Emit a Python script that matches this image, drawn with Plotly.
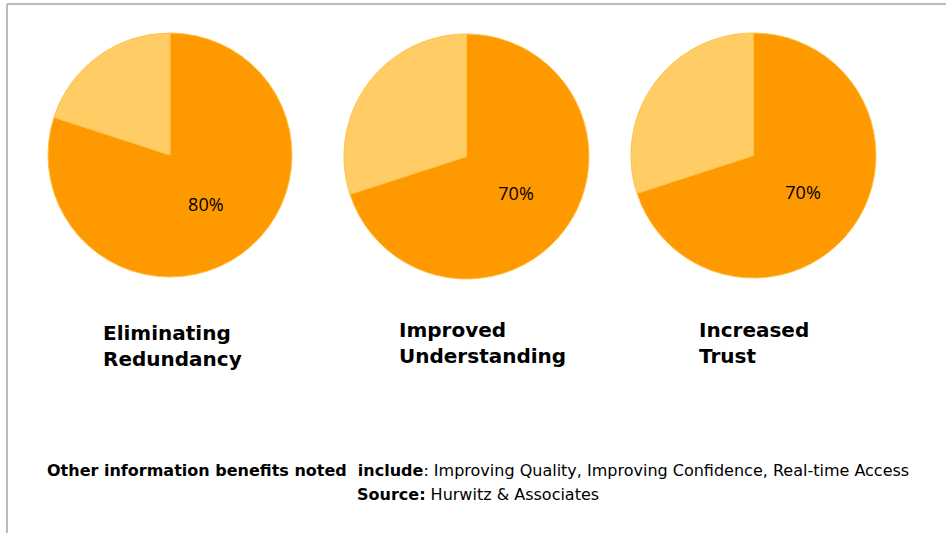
import plotly.graph_objects as go

W, H = 946, 533
titles = ["Eliminating<br>Redundancy", "Improved<br>Understanding", "Increased<br>Trust"]
yes_values = [80, 70, 70]
other_values = [20, 30, 30]
labels = ["Yes", "Other"]
dark = "#FF9900"
light = "#FFCC66"

# pixel boxes for pies: (left, right, top, bottom)
boxes = [(48, 292, 33, 277), (344, 589, 33, 280), (631, 876, 33, 278)]
title_pos = [(101, 346), (397, 343), (697, 343)]

fig = go.Figure()
for i in range(3):
    l, r, t, b = boxes[i]
    fig.add_trace(go.Pie(
        labels=labels,
        values=[yes_values[i], other_values[i]],
        text=[f"{yes_values[i]}%", ""],
        textinfo="text",
        textposition="inside",
        insidetextorientation="horizontal",
        sort=False,
        direction="clockwise",
        rotation=0,
        marker=dict(colors=[dark, light], line=dict(color="#FFC24A", width=1)),
        textfont=dict(family="Open Sans, Noto Sans, sans-serif", size=18, color="black"),
        domain=dict(x=[l / W, r / W], y=[1 - b / H, 1 - t / H]),
        showlegend=False,
        hoverinfo="label+percent",
    ))

annotations = []
for i in range(3):
    x, y = title_pos[i]
    annotations.append(dict(
        text=f"<b>{titles[i]}</b>", x=x / W, y=1 - y / H, xref="paper", yref="paper",
        xanchor="left", yanchor="middle", align="left", showarrow=False,
        font=dict(family="DejaVu Sans", size=20, color="black"),
    ))

foot_font = dict(family="DejaVu Sans", size=16, color="black")
annotations.append(dict(
    text="<b>Other information benefits noted  include</b>: Improving Quality, Improving Confidence, Real-time Access",
    x=478 / W, y=1 - 470 / H, xref="paper", yref="paper", xanchor="center", yanchor="middle",
    showarrow=False, font=foot_font,
))
annotations.append(dict(
    text="<b>Source:</b> Hurwitz &amp; Associates",
    x=478 / W, y=1 - 494 / H, xref="paper", yref="paper", xanchor="center", yanchor="middle",
    showarrow=False, font=foot_font,
))

shapes = [
    dict(type="line", xref="paper", yref="paper", x0=7 / W, x1=1, y0=1 - 4 / H, y1=1 - 4 / H,
         line=dict(color="#A6A6A6", width=1.5)),
    dict(type="line", xref="paper", yref="paper", x0=7 / W, x1=7 / W, y0=0, y1=1 - 4 / H,
         line=dict(color="#A6A6A6", width=1.5)),
]

fig.update_layout(
    width=W, height=H, margin=dict(l=0, r=0, t=0, b=0),
    paper_bgcolor="white", plot_bgcolor="white",
    annotations=annotations, shapes=shapes,
)
fig.write_html("out.html", config={"displayModeBar": False},
               post_script="document.body.style.margin='0';document.body.style.overflow='hidden';")
